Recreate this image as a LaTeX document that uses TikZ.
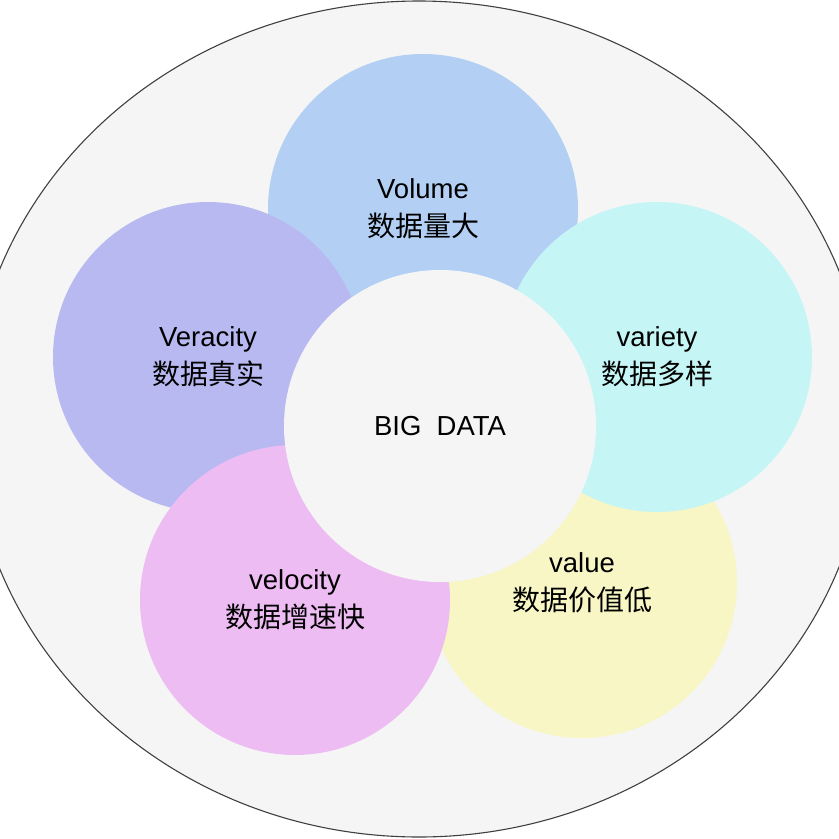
\documentclass[tikz,border=0pt]{standalone}
\usepackage{fontspec}
\setmainfont{Liberation Sans}
\newfontfamily\cjk{Noto Sans CJK SC}
\usetikzlibrary{shapes.geometric}
\definecolor{bgfill}{HTML}{F5F5F5}
\definecolor{outline}{HTML}{404040}
\definecolor{cblue}{HTML}{B3D0F4}
\definecolor{ccyan}{HTML}{C6F5F5}
\definecolor{cyellow}{HTML}{F7F6C4}
\definecolor{cpink}{HTML}{EDBCF3}
\definecolor{cpurple}{HTML}{B8B9F1}
\tikzset{
  bubble/.style={circle, draw=none, minimum size=310pt, inner sep=0pt, align=center,
    font=\fontsize{27.5}{38}\selectfont}
}
\newcommand{\zhtext}[1]{{\cjk\fontsize{28}{38}\selectfont #1}}
\begin{document}
\begin{tikzpicture}[x=1pt,y=-1pt]
\useasboundingbox (0,0) rectangle (839,839);
\clip (0,0) rectangle (839,839);
\fill[white] (0,0) rectangle (839,839);
\node[ellipse, draw=outline, fill=bgfill, line width=1.1pt, minimum width=898pt, minimum height=836pt, inner sep=0pt] (outer) at (419,419) {};
\node[bubble, fill=cblue] (volume) at (423,209) {Volume\\\zhtext{数据量大}};
\node[bubble, fill=cyellow] (value) at (582,583) {};
\node[bubble, fill=ccyan] (variety) at (657,357) {variety\\\zhtext{数据多样}};
\node[bubble, fill=cpurple] (veracity) at (208,357) {Veracity\\\zhtext{数据真实}};
\node[bubble, fill=cpink] (velocity) at (295,600) {velocity\\\zhtext{数据增速快}};
\node[align=center, font=\fontsize{27.5}{38}\selectfont] (valuetext) at (value.center) {value\\\zhtext{数据价值低}};
\node[bubble, fill=bgfill, minimum size=312pt] (center) at (440,426) {BIG\ \ DATA};
\end{tikzpicture}
\end{document}
